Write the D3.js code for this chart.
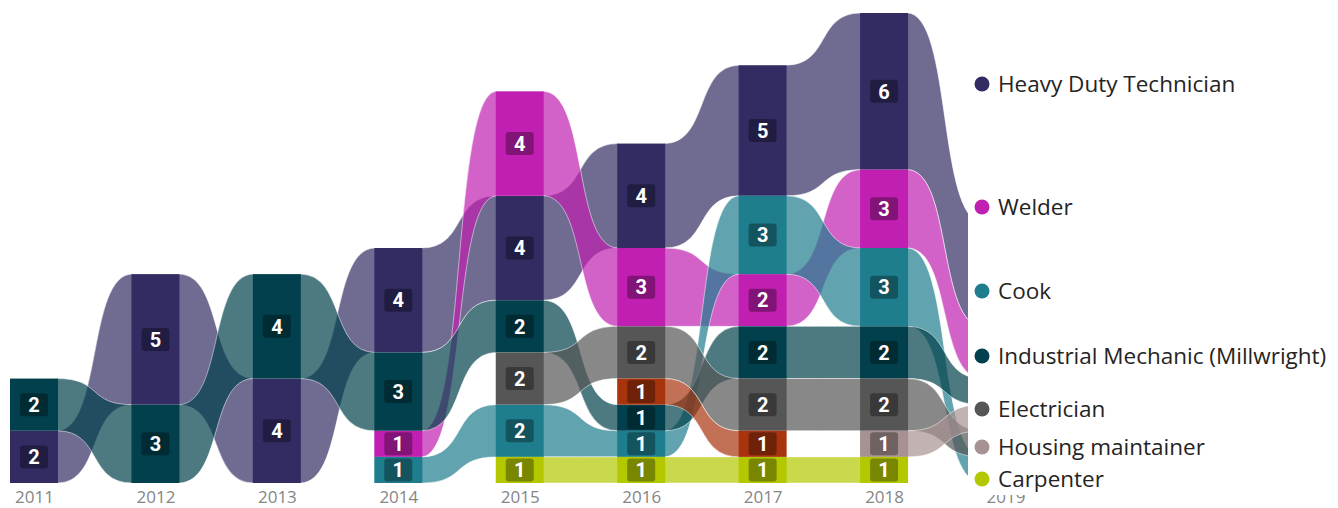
<!DOCTYPE html>
<html>
<head>
<meta charset="utf-8">
<title>Ribbon chart - trades by year</title>
<script src="https://cdn.jsdelivr.net/npm/d3@7"></script>
<style>
  body { margin: 0; background: #fff; }
  .year text { font-family: "Open Sans", sans-serif; font-size: 17px; fill: #858585; }
  .lbl { font-family: "Liberation Sans Narrow", Roboto, sans-serif; font-weight: bold; font-size: 20px; fill: #fff; }
  .legend text { font-family: "Open Sans", sans-serif; font-size: 22.5px; fill: #252423; }
</style>
</head>
<body>
<div id="content"></div>

<script type="text/javascript">
  // data
  var years = [2011, 2012, 2013, 2014, 2015, 2016, 2017, 2018, 2019];

  var heavyDuty   = [2, 5, 4, 4, 4, 4, 5, 6, 4];
  var welder      = [0, 0, 0, 1, 4, 3, 2, 3, 2];
  var cook        = [0, 0, 0, 1, 2, 1, 3, 3, 1];
  var industrial  = [2, 3, 4, 3, 2, 1, 2, 2, 1];
  var electrician = [0, 0, 0, 0, 2, 2, 2, 2, 1];
  var housing     = [0, 0, 0, 0, 0, 0, 0, 1, 1];
  var carpenter   = [0, 0, 0, 0, 1, 1, 1, 1, 0];
  var other       = [0, 0, 0, 0, 0, 1, 1, 0, 0]; // not in the visible legend

  var legendNames = ['Heavy Duty Technician', 'Welder', 'Cook',
    'Industrial Mechanic (Millwright)', 'Electrician', 'Housing maintainer', 'Carpenter'];

  var series = [
    { name: 'Heavy Duty Technician', values: heavyDuty, color: '#322c63' },
    { name: 'Welder', values: welder, color: '#c11fb1' },
    { name: 'Cook', values: cook, color: '#1e7e8e' },
    { name: 'Industrial Mechanic (Millwright)', values: industrial, color: '#01404c' },
    { name: 'Electrician', values: electrician, color: '#565656' },
    { name: 'Housing maintainer', values: housing, color: '#a89192' },
    { name: 'Carpenter', values: carpenter, color: '#b4c800' },
    { name: 'Other', values: other, color: '#a8340e' }
  ];

  var W = 1338, H = 508, barW = 48;
  var legendX = 968;
  var legendY = [84, 207, 291, 356, 409, 447, 479];

  var svg = d3.select('#content')
    .append('svg')
    .attr('width', W)
    .attr('height', H);

  var x = d3.scalePoint().domain(years).range([34, 1005.5]);
  var y = d3.scaleLinear().domain([0, 18]).range([483, 13]);

  // stack each year: largest on top, ties by name descending
  var cols = years.map(function(yr, i) {
    var items = series.filter(s => s.values[i] > 0)
      .sort((a, b) => (b.values[i] - a.values[i]) || d3.descending(a.name, b.name));
    var acc = 0, pos = {};
    for (var k = items.length - 1; k >= 0; k--) {
      var s = items[k];
      pos[s.name] = { y0: acc, y1: acc + s.values[i], v: s.values[i] };
      acc += s.values[i];
    }
    return pos;
  });

  function ribbon(a, b, xa, xb) {
    var dx = xb - xa, c1 = xa + 0.6 * dx, c2 = xb - 0.6 * dx;
    var p = d3.path();
    p.moveTo(xa, y(a.y1));
    p.bezierCurveTo(c1, y(a.y1), c2, y(b.y1), xb, y(b.y1));
    p.lineTo(xb, y(b.y0));
    p.bezierCurveTo(c2, y(b.y0), c1, y(a.y0), xa, y(a.y0));
    p.closePath();
    return p.toString();
  }

  // ribbons
  var ribbons = [];
  series.forEach(function(s) {
    for (var i = 0; i < years.length - 1; i++) {
      var a = cols[i][s.name], b = cols[i + 1][s.name];
      if (a && b) ribbons.push({ s: s, a: a, b: b, i: i });
    }
  });

  svg.append('g').selectAll('path')
    .data(ribbons)
    .enter().append('path')
    .attr('d', d => ribbon(d.a, d.b, x(years[d.i]) + barW / 2 - 1, x(years[d.i + 1]) - barW / 2 + 1))
    .attr('fill', d => d.s.color)
    .attr('fill-opacity', 0.7)
    .attr('stroke', '#fff')
    .attr('stroke-opacity', 0.5)
    .attr('stroke-width', 1);

  // bar segments
  var segs = [];
  years.forEach(function(yr, i) {
    series.forEach(function(s) {
      var c = cols[i][s.name];
      if (c) segs.push({ yr: yr, s: s, c: c });
    });
  });

  svg.append('g').selectAll('rect')
    .data(segs)
    .enter().append('rect')
    .attr('x', d => x(d.yr) - barW / 2)
    .attr('y', d => y(d.c.y1))
    .attr('width', barW)
    .attr('height', d => y(d.c.y0) - y(d.c.y1))
    .attr('fill', d => d.s.color);

  // value labels (the last column is covered by the legend)
  var lab = svg.append('g').selectAll('g')
    .data(segs.filter(d => x(d.yr) < legendX))
    .enter().append('g')
    .attr('transform', d => 'translate(' + x(d.yr) + ',' + (y(d.c.y0) + y(d.c.y1)) / 2 + ')');

  lab.append('rect')
    .attr('x', -14).attr('y', -11.5)
    .attr('width', 28).attr('height', 23)
    .attr('rx', 3)
    .attr('fill', '#000')
    .attr('fill-opacity', 0.33);

  lab.append('text')
    .attr('class', 'lbl')
    .attr('text-anchor', 'middle')
    .attr('dy', '0.36em')
    .text(d => d.c.v);

  // year axis
  svg.append('g')
    .attr('class', 'year')
    .attr('transform', 'translate(0,483)')
    .call(d3.axisBottom(x).tickSize(0).tickPadding(8))
    .call(g => g.select('.domain').remove());

  // legend sits over the last column
  var legend = svg.append('g').attr('class', 'legend');
  legend.append('rect')
    .attr('x', legendX).attr('y', 0)
    .attr('width', W - legendX).attr('height', 495)
    .attr('fill', '#fff');

  var items = legend.selectAll('g.item')
    .data(legendNames)
    .enter().append('g')
    .attr('class', 'item')
    .attr('transform', (d, i) => 'translate(982,' + legendY[i] + ')');

  items.append('circle')
    .attr('r', 7.5)
    .attr('fill', d => series.find(s => s.name === d).color);

  items.append('text')
    .attr('x', 16)
    .attr('dy', '0.35em')
    .text(d => d);
</script>
</body>
</html>
